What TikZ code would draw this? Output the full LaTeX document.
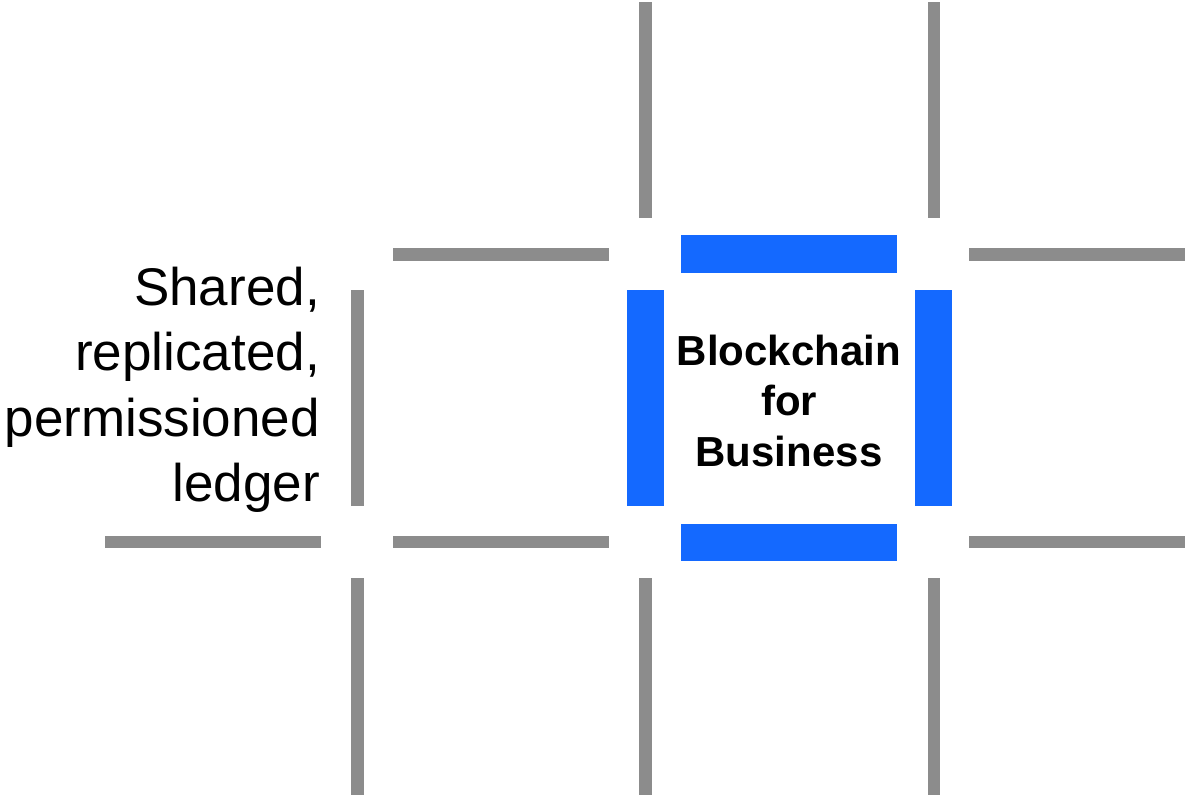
\documentclass[tikz,border=0pt]{standalone}
\usepackage{fontspec}
\setmainfont{Liberation Sans}
\definecolor{bargray}{HTML}{8C8C8C}
\definecolor{barblue}{HTML}{1469FF}
\begin{document}
\begin{tikzpicture}[x=1pt,y=-1pt,
  graybar/.style={fill=bargray},
  bluebar/.style={fill=barblue},
  sidetext/.style={anchor=base east,inner sep=0pt,font=\fontsize{53}{64}\selectfont},
  centertext/.style={anchor=base,inner sep=0pt,font=\fontsize{42}{50}\selectfont\bfseries}]
\useasboundingbox (0,0) rectangle (1185,795);
% gray horizontal bars
\fill[graybar] (393,248) rectangle (609,261);
\fill[graybar] (969,248) rectangle (1185,261);
\fill[graybar] (105,536) rectangle (321,548);
\fill[graybar] (393,536) rectangle (609,548);
\fill[graybar] (969,536) rectangle (1185,548);
% gray vertical bars
\fill[graybar] (351,290) rectangle (364,506);
\fill[graybar] (351,578) rectangle (364,795);
\fill[graybar] (639,2) rectangle (652,218);
\fill[graybar] (639,578) rectangle (652,795);
\fill[graybar] (928,2) rectangle (940,218);
\fill[graybar] (928,578) rectangle (940,795);
% blue bars
\fill[bluebar] (681,235) rectangle (897,273);
\fill[bluebar] (681,524) rectangle (897,561);
\fill[bluebar] (627,290) rectangle (664,506);
\fill[bluebar] (915,290) rectangle (952,506);
% texts
\node[sidetext] (l1) at (320,305) {Shared,};
\node[sidetext] (l2) at (320,370) {replicated,};
\node[sidetext] (l3) at (320,436) {permissioned};
\node[sidetext] (l4) at (320,501) {ledger};
\node[centertext] (c1) at (789,365) {Blockchain};
\node[centertext] (c2) at (789,415) {for};
\node[centertext] (c3) at (789,466) {Business};
\end{tikzpicture}
\end{document}
